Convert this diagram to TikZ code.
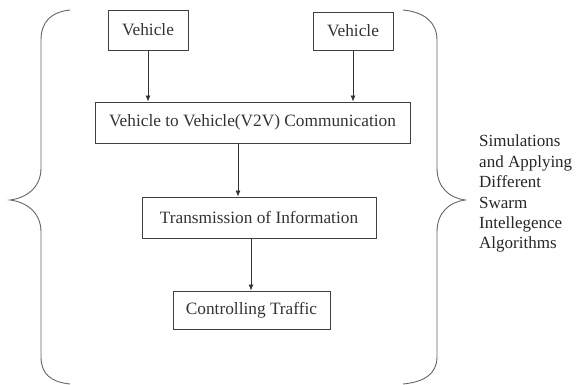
\documentclass[tikz,border=0pt]{standalone}
\usepackage{fontspec}
\setmainfont{Liberation Serif}
\usetikzlibrary{arrows.meta}
\begin{document}
\begin{tikzpicture}[x=1pt,y=-1pt,
  box/.style={draw=black!75,line width=0.8pt,inner sep=0pt,font=\fontsize{17.3}{19}\selectfont,text=black!80},
  arr/.style={draw=black!80,line width=0.8pt,-{Latex[length=6pt,width=5pt]}},
  brace/.style={draw=black!60,line width=0.9pt}]
\useasboundingbox (0,0) rectangle (576,385);
\node[box,minimum width=80pt,minimum height=40pt] (v1) at (148,30) {Vehicle};
\node[box,minimum width=80pt,minimum height=38pt] (v2) at (353,31) {Vehicle};
\node[box,minimum width=315pt,minimum height=41pt] (v2v) at (252.5,122.5) {Vehicle to Vehicle(V2V) Communication};
\node[box,minimum width=234pt,minimum height=41pt] (tr) at (259,217.5) {Transmission of Information};
\node[box,minimum width=157pt,minimum height=38pt] (ct) at (251.5,310) {Controlling Traffic};
\draw[arr] (v1.south) -- (v1.south |- v2v.north);
\draw[arr] (v2.south) -- (v2.south |- v2v.north);
\path (v2v.south) ++(-14.5,0) coordinate (a1);
\draw[arr] (a1) -- (a1 |- tr.north);
\path (tr.south) ++(-8,0) coordinate (a2);
\draw[arr] (a2) -- (a2 |- ct.north);
\draw[brace] (70,10) .. controls (51,12) and (41,22) .. (41,40)
  -- (41,168) .. controls (41,188) and (26,198) .. (10,200)
  .. controls (26,202) and (41,212) .. (41,232)
  -- (41,357) .. controls (41,374) and (51,382) .. (70,384);
\draw[brace] (403,10) .. controls (424,12) and (437,22) .. (437,40)
  -- (437,168) .. controls (437,188) and (450,198) .. (465,200)
  .. controls (450,202) and (437,212) .. (437,232)
  -- (437,357) .. controls (437,374) and (424,382) .. (403,384);
\node[anchor=north west,align=left,inner sep=0pt,font=\fontsize{17}{20.4}\selectfont,text=black!85] (lbl) at (479,135)
  {Simulations\\and Applying\\Different\\Swarm\\Intellegence\\Algorithms};
\end{tikzpicture}
\end{document}
